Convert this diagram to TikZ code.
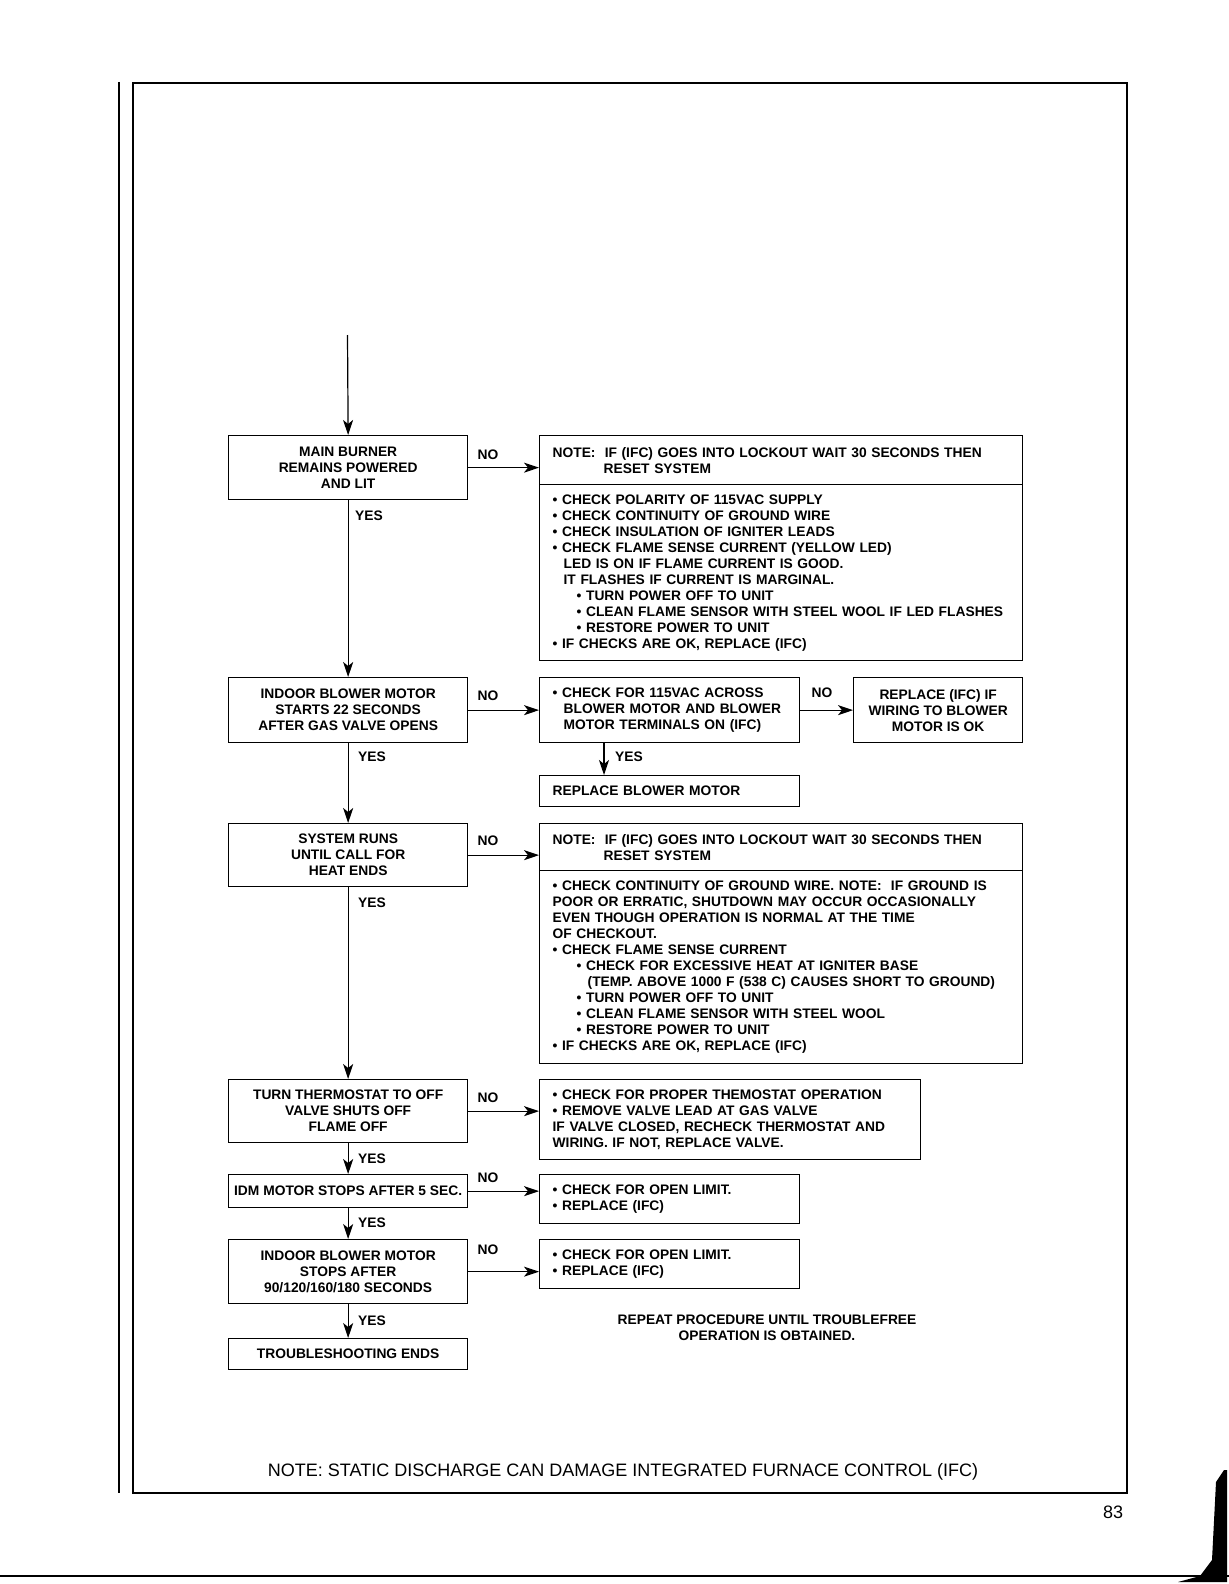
\documentclass[tikz,border=0pt]{standalone}
\usepackage{fontspec}
\setmainfont{Liberation Sans}
\usetikzlibrary{arrows.meta,positioning,calc}
\newcommand{\boxfont}{\fontsize{6.9}{8}\selectfont\bfseries}
\newcommand{\ind}[1]{\hspace*{#1pt}}
\tikzset{
  box/.style={draw, line width=0.65pt, inner sep=0pt, align=center, font=\boxfont, anchor=north west},
  listbox/.style={draw, line width=0.65pt, inner xsep=6.5pt, inner ysep=0pt, align=left, font=\boxfont, anchor=north west},
  lbl/.style={font=\boxfont, inner sep=0pt},
  flow/.style={-{Stealth[length=7.5pt,width=5pt,inset=2pt]}, line width=0.6pt},
}

\begin{document}
\begin{tikzpicture}[x=0.5pt, y=-0.5pt]
  \useasboundingbox (0,0) rectangle (1229,1584);
  % page frame
  \draw[line width=0.6pt] (119,82) -- (119,1493);
  \draw[line width=0.7pt] (133,83) rectangle (1127,1493);
  \draw[line width=1.2pt] (0,1576) -- (1229,1576);
  \fill (1216,1482) -- (1224,1470) -- (1227,1470) -- (1227,1582) -- (1178,1582)
    -- (1200,1576) -- (1212,1560) -- cycle;
  \node[font=\fontsize{9}{11}\selectfont] (pg) at (1113,1512) {83};

  % left column: decisions
  \coordinate (start) at (347.5,335);
  \node[box, minimum width=119.5pt, minimum height=32pt] (b1) at (228,435)
    {MAIN BURNER\\REMAINS POWERED\\AND LIT};
  \node[box, minimum width=119.5pt, minimum height=32.5pt] (b2) at (228,677)
    {INDOOR BLOWER MOTOR\\STARTS 22 SECONDS\\AFTER GAS VALVE OPENS};
  \node[box, minimum width=119.5pt, minimum height=31.5pt] (b3) at (228,823)
    {SYSTEM RUNS\\UNTIL CALL FOR\\HEAT ENDS};
  \node[box, minimum width=119.5pt, minimum height=31.5pt] (b4) at (228,1079)
    {TURN THERMOSTAT TO OFF\\VALVE SHUTS OFF\\FLAME OFF};
  \node[box, minimum width=119.5pt, minimum height=16.5pt] (b5) at (228,1174)
    {IDM MOTOR STOPS AFTER 5 SEC.};
  \node[box, minimum width=119.5pt, minimum height=32pt] (b6) at (228,1239)
    {INDOOR BLOWER MOTOR\\STOPS AFTER\\90/120/160/180 SECONDS};
  \node[box, minimum width=119.5pt, minimum height=15.5pt] (b7) at (228,1338)
    {TROUBLESHOOTING ENDS};

  % right column: checks
  \node[listbox, text width=228.5pt, minimum height=24.5pt] (n1top) at (539,435)
    {NOTE:\ \ IF (IFC) GOES INTO LOCKOUT WAIT 30 SECONDS THEN\\\ind{25.5}RESET SYSTEM};
  \node[listbox, text width=228.5pt, minimum height=88pt] (n1list) at (539,484)
    {• CHECK POLARITY OF 115VAC SUPPLY\\
     • CHECK CONTINUITY OF GROUND WIRE\\
     • CHECK INSULATION OF IGNITER LEADS\\
     • CHECK FLAME SENSE CURRENT (YELLOW LED)\\
     \ind{5.5}LED IS ON IF FLAME CURRENT IS GOOD.\\
     \ind{5.5}IT FLASHES IF CURRENT IS MARGINAL.\\
     \ind{12}• TURN POWER OFF TO UNIT\\
     \ind{12}• CLEAN FLAME SENSOR WITH STEEL WOOL IF LED FLASHES\\
     \ind{12}• RESTORE POWER TO UNIT\\
     • IF CHECKS ARE OK, REPLACE (IFC)};
  \node[listbox, text width=117pt, minimum height=32.5pt] (c1) at (539,677)
    {• CHECK FOR 115VAC ACROSS\\\ind{5.5}BLOWER MOTOR AND BLOWER\\\ind{5.5}MOTOR TERMINALS ON (IFC)};
  \node[box, minimum width=84.5pt, minimum height=32.5pt] (r1) at (853,677)
    {REPLACE (IFC) IF\\WIRING TO BLOWER\\MOTOR IS OK};
  \node[listbox, text width=117pt, minimum height=15.5pt] (rb) at (539,775)
    {REPLACE BLOWER MOTOR};
  \node[listbox, text width=228.5pt, minimum height=23.5pt] (n2top) at (539,823)
    {NOTE:\ \ IF (IFC) GOES INTO LOCKOUT WAIT 30 SECONDS THEN\\\ind{25.5}RESET SYSTEM};
  \node[listbox, text width=228.5pt, minimum height=96.5pt] (n2list) at (539,870)
    {• CHECK CONTINUITY OF GROUND WIRE. NOTE:\ \ IF GROUND IS\\
     POOR OR ERRATIC, SHUTDOWN MAY OCCUR OCCASIONALLY\\
     EVEN THOUGH OPERATION IS NORMAL AT THE TIME\\
     OF CHECKOUT.\\
     • CHECK FLAME SENSE CURRENT\\
     \ind{12}• CHECK FOR EXCESSIVE HEAT AT IGNITER BASE\\
     \ind{17.5}(TEMP. ABOVE 1000 F (538 C) CAUSES SHORT TO GROUND)\\
     \ind{12}• TURN POWER OFF TO UNIT\\
     \ind{12}• CLEAN FLAME SENSOR WITH STEEL WOOL\\
     \ind{12}• RESTORE POWER TO UNIT\\
     • IF CHECKS ARE OK, REPLACE (IFC)};
  \node[listbox, text width=177.5pt, minimum height=40pt] (t1) at (539,1079)
    {• CHECK FOR PROPER THEMOSTAT OPERATION\\
     • REMOVE VALVE LEAD AT GAS VALVE\\
     IF VALVE CLOSED, RECHECK THERMOSTAT AND\\
     WIRING. IF NOT, REPLACE VALVE.};
  \node[listbox, text width=117pt, minimum height=24.5pt] (l1) at (539,1174)
    {• CHECK FOR OPEN LIMIT.\\• REPLACE (IFC)};
  \node[listbox, text width=117pt, minimum height=24.5pt] (l2) at (539,1239)
    {• CHECK FOR OPEN LIMIT.\\• REPLACE (IFC)};

  % yes / no labels
  \node[lbl] (no1) at (488,455) {NO};
  \node[lbl] (no2) at (488,696) {NO};
  \node[lbl] (no3) at (822,693) {NO};
  \node[lbl] (no4) at (488,841) {NO};
  \node[lbl] (no5) at (488,1098) {NO};
  \node[lbl] (no6) at (488,1178) {NO};
  \node[lbl] (no7) at (488,1250) {NO};
  \node[lbl] (yes1) at (369,516) {YES};
  \node[lbl] (yes2) at (372,757) {YES};
  \node[lbl] (yes3) at (629,757) {YES};
  \node[lbl] (yes4) at (372,903) {YES};
  \node[lbl] (yes5) at (372,1159) {YES};
  \node[lbl] (yes6) at (372,1223) {YES};
  \node[lbl] (yes7) at (372,1321) {YES};

  % connectors
  \draw[flow] (start) -- (b1.north);
  \draw[flow] (b1.south) -- (b2.north);
  \draw[flow] (b2.south) -- (b3.north);
  \draw[flow] (b3.south) -- (b4.north);
  \draw[flow] (b4.south) -- (b5.north);
  \draw[flow] (b5.south) -- (b6.north);
  \draw[flow] (b6.south) -- (b7.north);
  \draw[flow] (b1.east) -- (b1.east -| n1top.west);
  \draw[flow] (b2.east) -- (c1.west);
  \draw[flow] (c1.east) -- (r1.west);
  \draw[flow] ([xshift=32.5pt]c1.south west) -- ([xshift=32.5pt]rb.north west);
  \draw[flow] (b3.east) -- (b3.east -| n2top.west);
  \draw[flow] (b4.east) -- (b4.east -| t1.west);
  \draw[flow] (b5.east) -- (b5.east -| l1.west);
  \draw[flow] (b6.east) -- (b6.east -| l2.west);

  % notes
  \node[font=\boxfont, align=center] (repeat) at (767,1328)
    {REPEAT PROCEDURE UNTIL TROUBLEFREE\\OPERATION IS OBTAINED.};
  \node[font=\fontsize{9}{11}\selectfont] (static) at (623,1472)
    {NOTE: STATIC DISCHARGE CAN DAMAGE INTEGRATED FURNACE CONTROL (IFC)};
\end{tikzpicture}
\end{document}
